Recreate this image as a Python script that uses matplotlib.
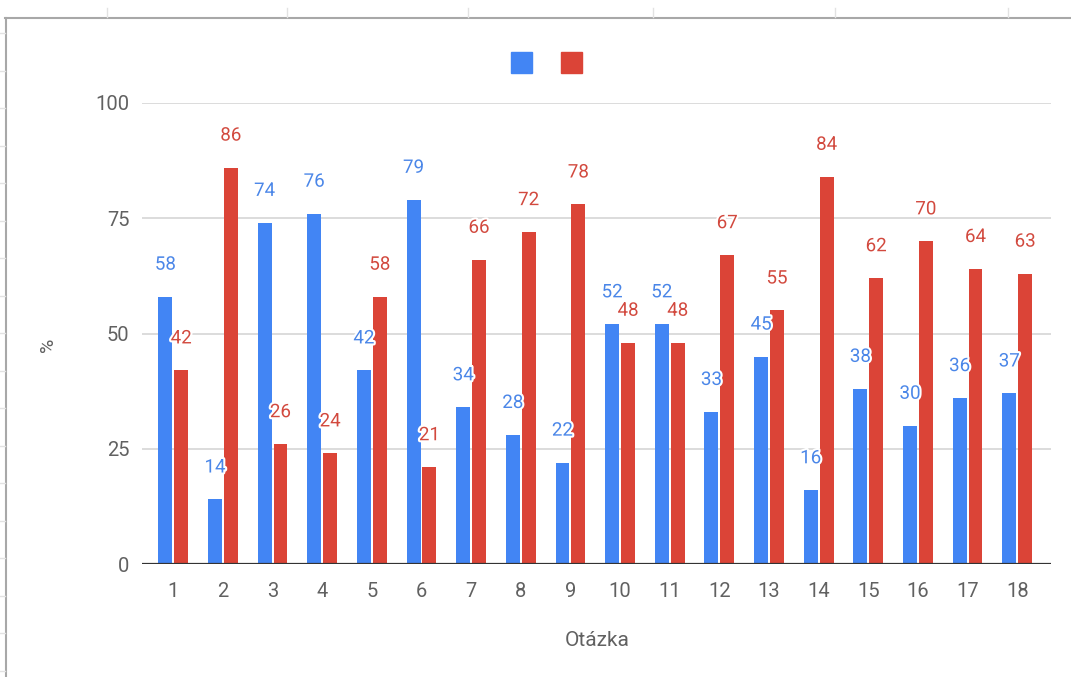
import numpy as np
import matplotlib.pyplot as plt
import matplotlib.patheffects as pe
from matplotlib.lines import Line2D
from matplotlib.patches import Rectangle

plt.rcParams['font.family'] = ['Roboto', 'DejaVu Sans']

# Data
otazky = [str(i) for i in range(1, 19)]
modra = [58, 14, 74, 76, 42, 79, 34, 28, 22, 52, 52, 33, 45, 16, 38, 30, 36, 37]
cervena = [42, 86, 26, 24, 58, 21, 66, 72, 78, 48, 48, 67, 55, 84, 62, 70, 64, 63]
y_ticks = [0, 25, 50, 75, 100]

c_modra = '#4285F4'
c_cervena = '#DB4437'
W, H = 1071, 677

fig = plt.figure(figsize=(W / 100, H / 100), dpi=100)
ax = fig.add_axes([142 / W, 1 - 564 / H, (1051 - 142) / W, (564 - 103) / H])

x = np.arange(1, len(otazky) + 1)
sirka = 0.28
posun = 0.16
ax.bar(x - posun, modra, sirka, color=c_modra, zorder=2)
ax.bar(x + posun, cervena, sirka, color=c_cervena, zorder=2)

# popisky hodnot nad sloupci (bily obrys jako v Google grafech)
obrys = [pe.withStroke(linewidth=3, foreground='white')]
for xi, v in zip(x - posun, modra):
    ax.annotate(str(v), (xi, v), xytext=(0, 23), textcoords='offset points',
                ha='center', va='center', fontsize=13.5, color='#4a86e8',
                path_effects=obrys, zorder=4, annotation_clip=False)
for xi, v in zip(x + posun, cervena):
    ax.annotate(str(v), (xi, v), xytext=(0, 23), textcoords='offset points',
                ha='center', va='center', fontsize=13.5, color='#d2493e',
                path_effects=obrys, zorder=4, annotation_clip=False)

ax.set_xlim(0.37, 18.68)
ax.set_ylim(0, 100)
ax.set_xticks(x)
ax.set_xticklabels(otazky)
ax.set_yticks(y_ticks)
ax.tick_params(axis='both', length=0, labelsize=14.5, colors='#616161')
ax.tick_params(axis='x', pad=13)
ax.tick_params(axis='y', pad=9)
ax.grid(axis='y', color='#d6d6d6', linewidth=1.2, zorder=0)
ax.set_axisbelow(True)
for s in ax.spines.values():
    s.set_visible(False)
ax.axhline(0, color='#333333', linewidth=1.6, zorder=3)

# popisky os
fig.text(48 / W, 1 - 345 / H, '%', rotation=90, ha='center', va='center',
         fontsize=14, color='#616161')
fig.text(597 / W, 1 - 640 / H, 'Otázka', ha='center', va='center',
         fontsize=15, color='#616161')

# legenda bez textu - jen dva ctverecky
fig.add_artist(Rectangle((511 / W, 1 - 73 / H), 21 / W, 21 / H,
                         transform=fig.transFigure, color=c_modra))
fig.add_artist(Rectangle((561 / W, 1 - 73 / H), 21 / W, 21 / H,
                         transform=fig.transFigure, color=c_cervena))

# ramecek tabulky kolem grafu
fig.add_artist(Line2D([5 / W, 1], [1 - 18 / H, 1 - 18 / H],
                      transform=fig.transFigure, color='#a8a8a8', lw=1.5))
fig.add_artist(Line2D([6 / W, 6 / W], [0, 1 - 18 / H],
                      transform=fig.transFigure, color='#a8a8a8', lw=1.5))
for px in [107, 287, 468, 653, 835, 1008]:
    fig.add_artist(Line2D([px / W, px / W], [1 - 8 / H, 1 - 17 / H],
                          transform=fig.transFigure, color='#e2e2e2', lw=1))
for py in np.arange(33, 677, 37.5):
    fig.add_artist(Line2D([0, 5 / W], [1 - py / H, 1 - py / H],
                          transform=fig.transFigure, color='#e2e2e2', lw=1))

plt.savefig('out.png', dpi=100)
